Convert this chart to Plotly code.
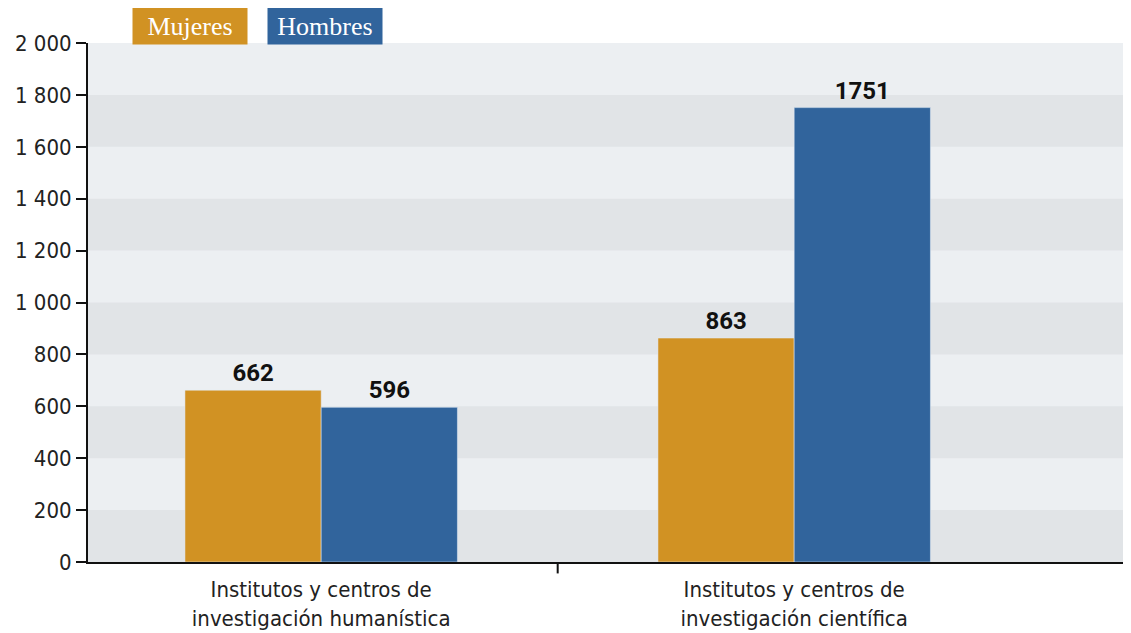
import plotly.graph_objects as go

categories = ["Institutos y centros de<br>investigación humanística",
              "Institutos y centros de<br>investigación científica"]
mujeres = [662, 863]
hombres = [596, 1751]
y_ticks = [0, 200, 400, 600, 800, 1000, 1200, 1400, 1600, 1800, 2000]

c_muj = "#D19223"
c_hom = "#31649C"
light = "#ECEFF2"
dark = "#E1E4E7"
sans = "Liberation Sans Narrow, DejaVu Sans Condensed, Liberation Sans, sans-serif"
label_font = dict(family="Roboto", size=24, color="#111", weight="bold")

fig = go.Figure()
fig.add_trace(go.Bar(name="Mujeres", x=categories, y=mujeres, marker_color=c_muj,
                     text=[str(v) for v in mujeres], textposition="outside",
                     textfont=label_font, cliponaxis=False, showlegend=False))
fig.add_trace(go.Bar(name="Hombres", x=categories, y=hombres, marker_color=c_hom,
                     text=[str(v) for v in hombres], textposition="outside",
                     textfont=label_font, cliponaxis=False, showlegend=False))

# darker horizontal bands every other grid interval
shapes = []
for i in range(0, len(y_ticks) - 1, 2):
    shapes.append(dict(type="rect", xref="paper", yref="y", x0=0, x1=1,
                       y0=y_ticks[i], y1=y_ticks[i + 1], fillcolor=dark,
                       line_width=0, layer="below"))
# divider tick between the two groups
shapes.append(dict(type="line", xref="x", yref="paper", x0=0.5, x1=0.5, y0=0, y1=-0.022,
                   line=dict(color="#111", width=2)))

leg_font = dict(family="Liberation Serif, DejaVu Serif, serif", size=26, color="white")

fig.update_layout(
    width=1131, height=625,
    margin=dict(l=80, r=0, t=35, b=71),
    barmode="group", bargap=0.424, bargroupgap=0,
    plot_bgcolor=light, paper_bgcolor="white",
    separators=", ",
    shapes=shapes,
    xaxis=dict(range=[-0.493, 1.729], showline=True, linecolor="#111", linewidth=2,
               ticks="", showgrid=False, ticklabelstandoff=7,
               tickfont=dict(family=sans, size=22, color="#222")),
    yaxis=dict(range=[0, 2000], tickvals=y_ticks, tickformat=",d", showline=True,
               linecolor="#111", linewidth=2, ticks="outside", ticklen=10, tickwidth=2,
               tickcolor="#111", showgrid=False, zeroline=False, automargin=False,
               tickfont=dict(family=sans, size=22, color="#222")),
    annotations=[
        dict(text="Mujeres", xref="paper", yref="paper", x=0.0970, y=1.0328,
             xanchor="center", yanchor="middle", showarrow=False, bgcolor=c_muj,
             width=110, height=32, borderpad=2, font=leg_font),
        dict(text="Hombres", xref="paper", yref="paper", x=0.2254, y=1.0328,
             xanchor="center", yanchor="middle", showarrow=False, bgcolor=c_hom,
             width=110, height=32, borderpad=2, font=leg_font),
    ],
)

fig.write_html("out.html")
